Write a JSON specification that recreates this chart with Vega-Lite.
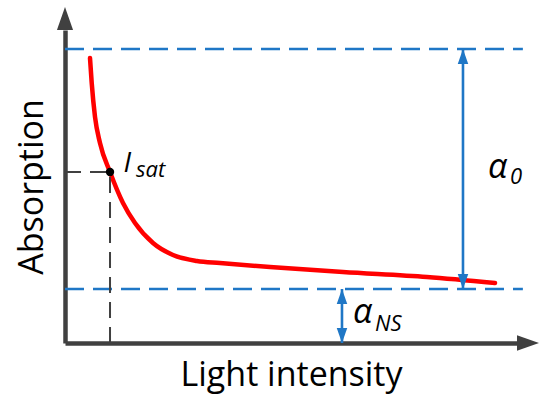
{
  "$schema": "https://vega.github.io/schema/vega-lite/v6.json",
  "autosize": {"type": "none"},
  "width": 452,
  "height": 313,
  "padding": {"left": 65, "top": 30, "right": 24, "bottom": 51},
  "background": "white",
  "config": {"view": {"stroke": null}, "font": "Open Sans"},
  "datasets": {
    "curve": [
      {"x": 5.53, "y": 91.05}, {"x": 5.91, "y": 83.07}, {"x": 6.64, "y": 72.2},
      {"x": 7.74, "y": 63.9}, {"x": 9.96, "y": 54.63}, {"x": 12.83, "y": 44.73},
      {"x": 15.49, "y": 38.34}, {"x": 19.47, "y": 31.95}, {"x": 23.89, "y": 28.12},
      {"x": 29.2, "y": 26.2}, {"x": 34.29, "y": 25.56}, {"x": 45.35, "y": 24.28},
      {"x": 61.5, "y": 22.68}, {"x": 80.09, "y": 21.09}, {"x": 95.13, "y": 19.17}
    ],
    "levels": [
      {"x": 0, "x2": 101.3, "y": 93.93},
      {"x": 0, "x2": 101.3, "y": 17.25}
    ],
    "guides": [
      {"x": 0, "x2": 9.96, "y": 54.63, "y2": 54.63},
      {"x": 9.96, "x2": 9.96, "y": 0, "y2": 54.63}
    ],
    "arrows": [
      {"x": 88.05, "y": 17.25, "y2": 93.93},
      {"x": 61.28, "y": 0, "y2": 17.25}
    ],
    "headsUp": [{"x": 88.05, "y": 93.93}, {"x": 61.28, "y": 17.25}],
    "headsDown": [{"x": 88.05, "y": 17.25}, {"x": 61.28, "y": 0}],
    "sat": [{"x": 9.96, "y": 54.63}],
    "mainLabels": [
      {"x": 12.94, "y": 54.63, "label": "I"}
    ],
    "alphaLabels": [
      {"x": 93.6, "y": 52.72, "label": "α"},
      {"x": 63.7, "y": 6.39, "label": "α"}
    ],
    "subLabels": [
      {"x": 15.71, "y": 53.04, "label": "sat"},
      {"x": 98.45, "y": 50.8, "label": "0"},
      {"x": 68.58, "y": 3.83, "label": "NS"}
    ],
    "axisY": [{"x": 0, "y": 100}],
    "axisX": [{"x": 100, "y": 0}]
  },
  "layer": [
    {
      "data": {"name": "levels"},
      "mark": {"type": "rule", "color": "#1F77C6", "strokeWidth": 2.6, "strokeDash": [19, 9]},
      "encoding": {
        "x": {"field": "x", "type": "quantitative", "scale": {"domain": [0, 100], "nice": false, "zero": false},
          "axis": {"title": "Light intensity", "domain": true, "domainColor": "#404040", "domainWidth": 4.5, "ticks": false, "labels": false, "grid": false,
            "titleFont": "Open Sans", "titleFontSize": 34, "titleFontWeight": "normal", "titleColor": "black", "titlePadding": 15}},
        "x2": {"field": "x2"},
        "y": {"field": "y", "type": "quantitative", "scale": {"domain": [0, 100], "nice": false, "zero": false},
          "axis": {"title": "Absorption", "domain": true, "domainColor": "#404040", "domainWidth": 4.5, "ticks": false, "labels": false, "grid": false,
            "titleFont": "Open Sans", "titleFontSize": 34, "titleFontWeight": "normal", "titleColor": "black", "titlePadding": 16}}
      }
    },
    {
      "data": {"name": "curve"},
      "mark": {"type": "line", "color": "#FF0000", "strokeWidth": 4.5, "interpolate": "monotone", "strokeCap": "round"},
      "encoding": {
        "x": {"field": "x", "type": "quantitative"},
        "y": {"field": "y", "type": "quantitative"}
      }
    },
    {
      "data": {"name": "guides"},
      "mark": {"type": "rule", "color": "#404040", "strokeWidth": 2, "strokeDash": [16, 9]},
      "encoding": {
        "x": {"field": "x", "type": "quantitative"},
        "x2": {"field": "x2"},
        "y": {"field": "y", "type": "quantitative"},
        "y2": {"field": "y2"}
      }
    },
    {
      "data": {"name": "arrows"},
      "mark": {"type": "rule", "color": "#1F77C6", "strokeWidth": 2.6},
      "encoding": {
        "x": {"field": "x", "type": "quantitative"},
        "y": {"field": "y", "type": "quantitative"},
        "y2": {"field": "y2"}
      }
    },
    {
      "data": {"name": "headsUp"},
      "mark": {"type": "point", "shape": "M0,0L0.7,2L-0.7,2Z", "size": 225, "filled": true, "color": "#1F77C6", "opacity": 1},
      "encoding": {
        "x": {"field": "x", "type": "quantitative"},
        "y": {"field": "y", "type": "quantitative"}
      }
    },
    {
      "data": {"name": "headsDown"},
      "mark": {"type": "point", "shape": "M0,0L0.7,-2L-0.7,-2Z", "size": 225, "filled": true, "color": "#1F77C6", "opacity": 1},
      "encoding": {
        "x": {"field": "x", "type": "quantitative"},
        "y": {"field": "y", "type": "quantitative"}
      }
    },
    {
      "data": {"name": "axisY"},
      "mark": {"type": "point", "shape": "M-0.7,0L0,-2L0.7,0Z", "size": 529, "filled": true, "color": "#404040", "opacity": 1},
      "encoding": {
        "x": {"field": "x", "type": "quantitative"},
        "y": {"field": "y", "type": "quantitative"}
      }
    },
    {
      "data": {"name": "axisX"},
      "mark": {"type": "point", "shape": "M0,-0.7L2,0L0,0.7Z", "size": 484, "filled": true, "color": "#404040", "opacity": 1},
      "encoding": {
        "x": {"field": "x", "type": "quantitative"},
        "y": {"field": "y", "type": "quantitative"}
      }
    },
    {
      "data": {"name": "sat"},
      "mark": {"type": "point", "shape": "circle", "size": 70, "filled": true, "color": "black", "opacity": 1},
      "encoding": {
        "x": {"field": "x", "type": "quantitative"},
        "y": {"field": "y", "type": "quantitative"}
      }
    },
    {
      "data": {"name": "mainLabels"},
      "mark": {"type": "text", "font": "Open Sans", "fontSize": 28, "fontStyle": "italic", "align": "left", "baseline": "alphabetic", "color": "black"},
      "encoding": {
        "x": {"field": "x", "type": "quantitative"},
        "y": {"field": "y", "type": "quantitative"},
        "text": {"field": "label"}
      }
    },
    {
      "data": {"name": "alphaLabels"},
      "mark": {"type": "text", "font": "Open Sans", "fontSize": 34, "fontStyle": "italic", "align": "left", "baseline": "alphabetic", "color": "black"},
      "encoding": {
        "x": {"field": "x", "type": "quantitative"},
        "y": {"field": "y", "type": "quantitative"},
        "text": {"field": "label"}
      }
    },
    {
      "data": {"name": "subLabels"},
      "mark": {"type": "text", "font": "Open Sans", "fontSize": 22, "fontStyle": "italic", "align": "left", "baseline": "alphabetic", "color": "black"},
      "encoding": {
        "x": {"field": "x", "type": "quantitative"},
        "y": {"field": "y", "type": "quantitative"},
        "text": {"field": "label"}
      }
    }
  ]
}
